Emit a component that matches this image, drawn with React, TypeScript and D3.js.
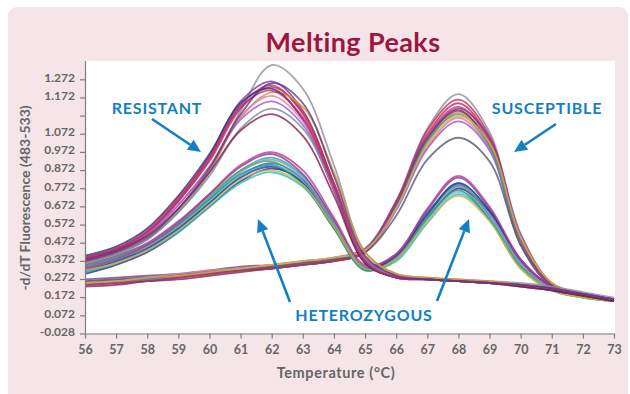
import { useRef, useEffect } from "react";
import * as d3 from "d3";

// temperatures sampled (°C)
const temps = [56, 57, 58, 59, 60, 61, 62, 63, 64, 65, 66, 67, 68, 69, 70, 71, 72, 73];

// resistant (homozygous, low Tm) curves
const resistant = [
  [0.36, 0.41, 0.49, 0.64, 0.86, 1.20, 1.45, 1.32, 0.90, 0.42, 0.30, 0.28, 0.27, 0.26, 0.25, 0.23, 0.20, 0.17],
  [0.38, 0.43, 0.53, 0.71, 0.95, 1.25, 1.36, 1.20, 0.80, 0.38, 0.29, 0.27, 0.26, 0.25, 0.24, 0.22, 0.19, 0.16],
  [0.37, 0.42, 0.52, 0.70, 0.93, 1.23, 1.34, 1.18, 0.78, 0.37, 0.28, 0.27, 0.26, 0.25, 0.24, 0.22, 0.19, 0.16],
  [0.39, 0.44, 0.53, 0.70, 0.92, 1.21, 1.33, 1.19, 0.80, 0.39, 0.29, 0.27, 0.26, 0.25, 0.24, 0.21, 0.18, 0.15],
  [0.36, 0.41, 0.49, 0.65, 0.87, 1.16, 1.30, 1.22, 0.86, 0.42, 0.30, 0.28, 0.27, 0.26, 0.24, 0.22, 0.19, 0.16],
  [0.40, 0.45, 0.55, 0.73, 0.96, 1.24, 1.32, 1.15, 0.76, 0.36, 0.28, 0.27, 0.26, 0.25, 0.23, 0.21, 0.18, 0.15],
  [0.37, 0.42, 0.51, 0.68, 0.89, 1.17, 1.28, 1.14, 0.77, 0.37, 0.28, 0.27, 0.26, 0.25, 0.24, 0.22, 0.19, 0.16],
  [0.38, 0.43, 0.52, 0.68, 0.89, 1.15, 1.25, 1.12, 0.76, 0.37, 0.29, 0.27, 0.26, 0.25, 0.24, 0.22, 0.19, 0.16],
  [0.36, 0.41, 0.49, 0.64, 0.84, 1.10, 1.21, 1.10, 0.77, 0.38, 0.29, 0.27, 0.26, 0.25, 0.24, 0.22, 0.19, 0.16],
  [0.38, 0.43, 0.51, 0.66, 0.86, 1.09, 1.18, 1.06, 0.73, 0.36, 0.28, 0.27, 0.26, 0.25, 0.23, 0.21, 0.18, 0.15],
  [0.39, 0.44, 0.54, 0.72, 0.94, 1.22, 1.31, 1.16, 0.78, 0.37, 0.28, 0.27, 0.26, 0.25, 0.24, 0.22, 0.19, 0.16],
  [0.37, 0.42, 0.50, 0.66, 0.88, 1.18, 1.35, 1.24, 0.84, 0.40, 0.29, 0.27, 0.26, 0.25, 0.24, 0.22, 0.19, 0.16],
];
const resistantColors = ["#8d8f9c", "#7a3a9a", "#c0388c", "#c82a3a", "#e0902a", "#2e2e78", "#e67aa8", "#9a5ad0", "#7a8aa8", "#8a1f4a", "#b02a6a", "#5a3a8a"];

// heterozygous curves (two peaks)
const heterozygous = [
  [0.33, 0.38, 0.45, 0.57, 0.72, 0.87, 0.94, 0.84, 0.60, 0.34, 0.40, 0.63, 0.80, 0.64, 0.36, 0.22, 0.18, 0.15],
  [0.31, 0.36, 0.43, 0.54, 0.69, 0.84, 0.91, 0.82, 0.58, 0.33, 0.39, 0.62, 0.79, 0.62, 0.35, 0.22, 0.18, 0.15],
  [0.34, 0.39, 0.46, 0.58, 0.73, 0.87, 0.92, 0.80, 0.55, 0.32, 0.40, 0.64, 0.78, 0.60, 0.33, 0.21, 0.18, 0.15],
  [0.30, 0.35, 0.42, 0.53, 0.67, 0.81, 0.88, 0.81, 0.58, 0.34, 0.38, 0.60, 0.77, 0.64, 0.37, 0.23, 0.19, 0.16],
  [0.35, 0.40, 0.47, 0.59, 0.74, 0.89, 0.96, 0.85, 0.59, 0.34, 0.41, 0.65, 0.83, 0.66, 0.37, 0.22, 0.18, 0.15],
  [0.32, 0.37, 0.44, 0.55, 0.70, 0.84, 0.90, 0.81, 0.57, 0.33, 0.38, 0.60, 0.75, 0.61, 0.35, 0.22, 0.18, 0.15],
  [0.33, 0.38, 0.45, 0.56, 0.71, 0.86, 0.93, 0.83, 0.58, 0.34, 0.39, 0.61, 0.78, 0.63, 0.36, 0.22, 0.18, 0.15],
  [0.31, 0.36, 0.43, 0.53, 0.67, 0.80, 0.86, 0.78, 0.56, 0.33, 0.37, 0.58, 0.74, 0.60, 0.34, 0.21, 0.17, 0.15],
  [0.32, 0.37, 0.44, 0.55, 0.69, 0.83, 0.89, 0.80, 0.56, 0.33, 0.40, 0.63, 0.80, 0.65, 0.38, 0.23, 0.18, 0.15],
  [0.34, 0.39, 0.46, 0.57, 0.71, 0.85, 0.90, 0.79, 0.55, 0.32, 0.38, 0.61, 0.76, 0.60, 0.34, 0.21, 0.17, 0.15],
  [0.33, 0.38, 0.46, 0.58, 0.74, 0.90, 0.97, 0.87, 0.61, 0.35, 0.41, 0.66, 0.84, 0.67, 0.38, 0.23, 0.18, 0.15],
  [0.32, 0.36, 0.43, 0.54, 0.68, 0.82, 0.87, 0.79, 0.56, 0.33, 0.38, 0.59, 0.73, 0.59, 0.33, 0.21, 0.17, 0.15],
];
const heterozygousColors = ["#20a8a8", "#3a60c0", "#4aa860", "#2a2a80", "#7b3fa0", "#6ac0e8", "#9098a8", "#20c0d0", "#1f3f9f", "#2a9a80", "#c23490", "#d8b040"];

// susceptible (homozygous, high Tm) curves
const susceptible = [
  [0.26, 0.27, 0.28, 0.29, 0.31, 0.33, 0.34, 0.36, 0.38, 0.43, 0.70, 1.10, 1.29, 1.08, 0.50, 0.24, 0.19, 0.16],
  [0.24, 0.25, 0.26, 0.28, 0.30, 0.32, 0.33, 0.35, 0.37, 0.42, 0.68, 1.07, 1.24, 1.04, 0.47, 0.23, 0.18, 0.16],
  [0.25, 0.26, 0.27, 0.29, 0.31, 0.33, 0.34, 0.36, 0.38, 0.43, 0.69, 1.06, 1.22, 1.03, 0.48, 0.24, 0.19, 0.16],
  [0.27, 0.28, 0.29, 0.30, 0.32, 0.34, 0.35, 0.37, 0.39, 0.44, 0.70, 1.05, 1.21, 1.05, 0.52, 0.25, 0.19, 0.16],
  [0.25, 0.26, 0.27, 0.28, 0.30, 0.32, 0.34, 0.36, 0.38, 0.42, 0.66, 1.02, 1.19, 1.02, 0.49, 0.24, 0.19, 0.16],
  [0.23, 0.24, 0.26, 0.27, 0.29, 0.31, 0.33, 0.35, 0.37, 0.42, 0.67, 1.04, 1.20, 1.01, 0.46, 0.23, 0.18, 0.15],
  [0.26, 0.27, 0.28, 0.30, 0.32, 0.33, 0.35, 0.37, 0.39, 0.43, 0.66, 1.00, 1.16, 0.99, 0.47, 0.24, 0.19, 0.16],
  [0.24, 0.25, 0.27, 0.28, 0.30, 0.32, 0.34, 0.36, 0.38, 0.42, 0.65, 0.99, 1.14, 0.98, 0.46, 0.23, 0.18, 0.16],
  [0.25, 0.26, 0.27, 0.29, 0.31, 0.33, 0.34, 0.36, 0.38, 0.43, 0.67, 1.03, 1.18, 1.00, 0.47, 0.24, 0.19, 0.16],
  [0.26, 0.27, 0.28, 0.29, 0.31, 0.32, 0.34, 0.36, 0.38, 0.42, 0.62, 0.93, 1.05, 0.92, 0.46, 0.24, 0.19, 0.16],
  [0.24, 0.25, 0.26, 0.28, 0.30, 0.32, 0.33, 0.35, 0.37, 0.42, 0.69, 1.09, 1.26, 1.06, 0.49, 0.24, 0.18, 0.16],
  [0.25, 0.26, 0.28, 0.29, 0.31, 0.33, 0.35, 0.37, 0.39, 0.43, 0.66, 1.01, 1.17, 1.02, 0.50, 0.25, 0.19, 0.16],
];
const susceptibleColors = ["#8c8c98", "#d0283c", "#c23490", "#7a3a9a", "#e3902e", "#8a1a48", "#e87aa0", "#9a58c8", "#2aa0a0", "#5a5a70", "#b0306a", "#d8b040"];

// axis ticks (labels as printed on the original)
const xTicks = [56, 57, 58, 59, 60, 61, 62, 63, 64, 65, 66, 67, 68, 69, 70, 71, 72, 73];
const yTickValues = [-0.028, 0.072, 0.172, 0.272, 0.372, 0.472, 0.572, 0.672, 0.772, 0.872, 0.972, 1.072, 1.172, 1.272, 1.372];
const yTickLabels = ["-0.028", "0.072", "0.172", "0.272", "0.372", "0.472", "0.572", "0.672", "0.772", "0.872", "0.972", "1.072", "", "1.172", "1.272"];

export default function App() {
  const svgRef = useRef<SVGSVGElement>(null);

  useEffect(() => {
    const width = 630;
    const height = 394;
    const left = 85, right = 614, top = 61, bottom = 333.5;
    const font = "Lato, 'Noto Sans', sans-serif";

    const svg = d3.select(svgRef.current);
    svg.selectAll("*").remove();
    svg.attr("width", width).attr("height", height);

    svg.append("rect").attr("width", width).attr("height", height).attr("fill", "#ffffff");
    // pink panel
    svg.append("rect")
      .attr("x", 8).attr("y", 7).attr("width", 620).attr("height", 400)
      .attr("rx", 9).attr("fill", "#f5e4e8");

    // plot area
    svg.append("rect")
      .attr("x", left).attr("y", top).attr("width", 615 - left).attr("height", bottom - top)
      .attr("fill", "#ffffff");

    const xScale = d3.scaleLinear().domain([56, 73]).range([left, right]);
    const yScale = d3.scaleLinear().domain([-0.028, 1.4726]).range([bottom, top]);

    svg.append("defs").append("clipPath").attr("id", "plotclip")
      .append("rect").attr("x", left).attr("y", top).attr("width", 615 - left).attr("height", bottom - top);

    const line = d3.line<number>()
      .x((_, i) => xScale(temps[i]))
      .y((d) => yScale(d))
      .curve(d3.curveCatmullRom.alpha(0.5));

    const curves = svg.append("g").attr("clip-path", "url(#plotclip)");
    const groups: [number[][], string[]][] = [
      [susceptible, susceptibleColors],
      [heterozygous, heterozygousColors],
      [resistant, resistantColors],
    ];
    groups.forEach(([series, colors]) => {
      curves.append("g")
        .selectAll("path")
        .data(series)
        .join("path")
        .attr("d", (d) => line(d))
        .attr("fill", "none")
        .attr("stroke", (_, i) => colors[i % colors.length])
        .attr("stroke-width", 1.8)
        .attr("stroke-opacity", 0.8);
    });

    // axes
    const axisColor = "#7d7d7d";
    const labelColor = "#666666";

    const xAxis = svg.append("g")
      .attr("transform", `translate(0,${bottom})`)
      .call(d3.axisBottom(xScale).tickValues(xTicks).tickFormat(d3.format("d")).tickSize(5).tickSizeOuter(0));
    xAxis.select(".domain").attr("stroke", axisColor).attr("stroke-width", 1.2);
    xAxis.selectAll(".tick line").attr("stroke", axisColor).attr("stroke-width", 1.2);
    xAxis.selectAll(".tick text")
      .attr("fill", labelColor).attr("font-family", font).attr("font-weight", 700)
      .attr("font-size", 12.5).attr("dy", "1em");

    const yAxis = svg.append("g")
      .attr("transform", `translate(${left},0)`)
      .call(d3.axisLeft(yScale).tickValues(yTickValues)
        .tickFormat((_, i) => yTickLabels[i]).tickSize(5).tickSizeOuter(0));
    yAxis.select(".domain").attr("stroke", axisColor).attr("stroke-width", 1.2);
    yAxis.select(".domain").attr("d", `M0.5,${top}V${bottom}`);
    yAxis.selectAll(".tick line").attr("stroke", axisColor).attr("stroke-width", 1.2);
    yAxis.selectAll(".tick text")
      .attr("fill", labelColor).attr("font-family", font).attr("font-weight", 700)
      .attr("font-size", 12).attr("x", -10).attr("dy", "0.15em");

    // titles
    svg.append("text")
      .attr("x", 353).attr("y", 52).attr("text-anchor", "middle")
      .attr("font-family", font).attr("font-weight", 700).attr("font-size", 27)
      .attr("letter-spacing", 0.4)
      .attr("fill", "#9e1640")
      .text("Melting Peaks");

    svg.append("text")
      .attr("x", 336).attr("y", 378).attr("text-anchor", "middle")
      .attr("font-family", font).attr("font-weight", 700).attr("font-size", 14.5)
      .attr("letter-spacing", 0.6)
      .attr("fill", labelColor)
      .text("Temperature (°C)");

    svg.append("text")
      .attr("transform", "translate(30,198) rotate(-90)")
      .attr("text-anchor", "middle")
      .attr("font-family", font).attr("font-weight", 700).attr("font-size", 14)
      .attr("fill", labelColor)
      .text("-d/dT Fluorescence (483-533)");

    // annotations
    const blue = "#1380c4";
    const notes = [
      { text: "RESISTANT", x: 157, y: 114 },
      { text: "SUSCEPTIBLE", x: 547, y: 114 },
      { text: "HETEROZYGOUS", x: 364, y: 321 },
    ];
    svg.selectAll(".note")
      .data(notes)
      .join("text")
      .attr("class", "note")
      .attr("x", (d) => d.x).attr("y", (d) => d.y).attr("text-anchor", "middle")
      .attr("font-family", font).attr("font-weight", 700).attr("font-size", 16)
      .attr("letter-spacing", 0.8)
      .attr("fill", blue)
      .text((d) => d.text);

    const arrows = [
      { x1: 152, y1: 119, x2: 201, y2: 152 },
      { x1: 556, y1: 124, x2: 514, y2: 152 },
      { x1: 290, y1: 302, x2: 258, y2: 219 },
      { x1: 437, y1: 301, x2: 469, y2: 219 },
    ];
    arrows.forEach((a) => {
      const ang = Math.atan2(a.y2 - a.y1, a.x2 - a.x1);
      const hl = 13, hw = 6;
      const bx = a.x2 - hl * Math.cos(ang), by = a.y2 - hl * Math.sin(ang);
      svg.append("line")
        .attr("x1", a.x1).attr("y1", a.y1).attr("x2", bx).attr("y2", by)
        .attr("stroke", blue).attr("stroke-width", 2.6);
      const px = -Math.sin(ang), py = Math.cos(ang);
      svg.append("path")
        .attr("d", `M${a.x2},${a.y2}L${bx + hw * px},${by + hw * py}L${bx - hw * px},${by - hw * py}Z`)
        .attr("fill", blue);
    });
  }, []);

  return (
    <svg ref={svgRef} style={{ position: "absolute", left: 0, top: 0, display: "block" }}></svg>
  );
}
